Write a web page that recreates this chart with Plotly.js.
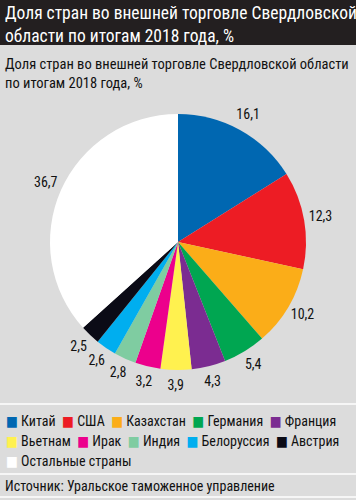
<!DOCTYPE html>
<html>
<head>
<meta charset="utf-8">
<script src="https://cdn.plot.ly/plotly-3.0.1.min.js"></script>
<style>html,body{margin:0;padding:0;background:#dcdcdc;}#chart{width:356px;height:500px;}</style>
</head>
<body>
<div id="chart"></div>
<script>
var countries = ["Китай","США","Казахстан","Германия","Франция","Вьетнам","Ирак","Индия","Белоруссия","Австрия","Остальные страны"];
var shares = [16.1,12.3,10.2,5.4,4.3,3.9,3.2,2.8,2.6,2.5,36.7];
var sliceColors = ["#0067b1","#ed1c24","#fbad18","#00a651","#7b2c91","#fff14f","#ec008c","#7fcca1","#00aeef","#0b0b16","#ffffff"];
var legendRows = [[0,1,2,3,4],[5,6,7,8,9],[10]];
var headerTitle = "Доля стран во внешней торговле Свердловской<br>области по итогам 2018 года, %";
var subTitle = "Доля стран во внешней торговле Свердловской области<br>по итогам 2018 года, %";
var sourceText = "Источник: Уральское таможенное управление";

var FONT = "'Roboto Condensed', 'Liberation Sans Narrow', 'DejaVu Sans Condensed', 'Arial Narrow', Roboto, sans-serif";

// pie geometry (paper pixels)
var CX = 178, CY = 242, R = 128, RMAX = 1.3;

var pieTrace = {
  type: "pie",
  labels: countries,
  values: shares,
  sort: false,
  direction: "clockwise",
  rotation: 0,
  marker: {colors: sliceColors, line: {width: 0}},
  textinfo: "none",
  hoverinfo: "label+value",
  showlegend: false,
  domain: {x: [(CX-R)/356, (CX+R)/356], y: [1-(CY+R)/500, 1-(CY-R)/500]}
};

// value labels: placed at each slice's mid-angle via a polar subplot sharing the pie's centre
var total = shares.reduce(function(a,b){return a+b;}, 0);
var cum = 0, midTheta = [];
shares.forEach(function(v){ midTheta.push((cum + v/2)/total*360); cum += v; });
var labelTrace = {
  type: "scatterpolar",
  subplot: "polar",
  mode: "text",
  theta: midTheta,
  r: shares.map(function(){ return 1.13; }),
  text: shares.map(function(v){ return v.toFixed(1).replace(".", ","); }),
  textposition: "middle center",
  textfont: {family: FONT, size: 14, color: "#111"},
  cliponaxis: false,
  hoverinfo: "skip",
  showlegend: false
};

var RP = R*RMAX;
var layout = {
  width: 356, height: 500,
  margin: {l: 0, r: 0, t: 0, b: 0},
  paper_bgcolor: "#dcdcdc",
  plot_bgcolor: "#dcdcdc",
  separators: ", ",
  font: {family: FONT, color: "#111"},
  showlegend: false,
  polar: {
    domain: {x: [(CX-RP)/356, (CX+RP)/356], y: [1-(CY+RP)/500, 1-(CY-RP)/500]},
    bgcolor: "rgba(0,0,0,0)",
    radialaxis: {range: [0, RMAX], visible: false, showgrid: false},
    angularaxis: {rotation: 90, direction: "clockwise", visible: false, showgrid: false, showline: false},
  },
  shapes: [
    {type: "rect", xref: "paper", yref: "paper", x0: 0, x1: 1, y0: 1-45/500, y1: 1, fillcolor: "#231f20", line: {width: 0}, layer: "below"},
    {type: "line", xref: "paper", yref: "paper", x0: 0, x1: 1, y0: 1-404/500, y1: 1-404/500, line: {color: "#ffffff", width: 1.5}},
    {type: "line", xref: "paper", yref: "paper", x0: 0, x1: 1, y0: 1-474/500, y1: 1-474/500, line: {color: "#ffffff", width: 1.5}},
    {type: "line", xref: "paper", yref: "paper", x0: 0, x1: 1, y0: 1-497/500, y1: 1-497/500, line: {color: "#ffffff", width: 1.5}}
  ],
  annotations: [
    {xref: "paper", yref: "paper", x: 0.008, y: 1-24/500, xanchor: "left", yanchor: "middle", align: "left", showarrow: false,
     text: headerTitle, font: {family: FONT, size: 17.5, color: "#ffffff"}},
    {xref: "paper", yref: "paper", x: 0.008, y: 1-74/500, xanchor: "left", yanchor: "middle", align: "left", showarrow: false,
     text: subTitle, font: {family: FONT, size: 14.5, color: "#111"}},
    {xref: "paper", yref: "paper", x: 0.008, y: 1-486/500, xanchor: "left", yanchor: "middle", align: "left", showarrow: false,
     text: sourceText, font: {family: FONT, size: 14, color: "#111"}}
  ]
};

// legend rows built from the category and colour arrays
var legendY = [421, 441, 461];
legendRows.forEach(function(row, ri){
  var parts = row.map(function(i){
    return "<span style='color:" + sliceColors[i] + "'>■</span>\u00a0" + countries[i];
  });
  layout.annotations.push({
    xref: "paper", yref: "paper", x: 0.012, y: 1-legendY[ri]/500, xanchor: "left", yanchor: "middle", align: "left",
    showarrow: false, text: parts.join("\u00a0\u00a0"),
    font: {family: FONT, size: 14, color: "#111"}
  });
});

Plotly.newPlot("chart", [pieTrace, labelTrace], layout, {displayModeBar: false, staticPlot: true});
</script>
</body>
</html>
